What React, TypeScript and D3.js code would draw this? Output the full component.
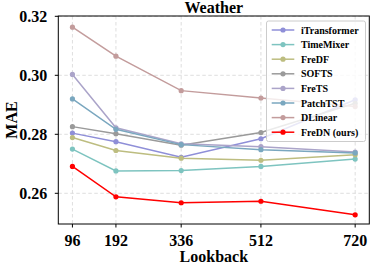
import React from "react";
import * as d3 from "d3";

const lookbacks = [96, 192, 336, 512, 720];
const seriesNames = ["iTransformer", "TimeMixer", "FreDF", "SOFTS", "FreTS", "PatchTST", "DLinear", "FreDN (ours)"];
const iTransformer = [0.2804, 0.2775, 0.2722, 0.2785, 0.2917];
const TimeMixer = [0.2750, 0.2676, 0.2677, 0.2691, 0.2716];
const FreDF = [0.2789, 0.2745, 0.2719, 0.2712, 0.2731];
const SOFTS = [0.2826, 0.2802, 0.2763, 0.2806, 0.2905];
const FreTS = [0.3003, 0.2822, 0.2768, 0.2758, 0.2740];
const PatchTST = [0.2920, 0.2817, 0.2765, 0.2748, 0.2737];
const DLinear = [0.3163, 0.3065, 0.2948, 0.2923, 0.2894];
const FreDN = [0.2691, 0.2588, 0.2568, 0.2573, 0.2527];
const seriesValues = [iTransformer, TimeMixer, FreDF, SOFTS, FreTS, PatchTST, DLinear, FreDN];
const seriesColors = ["#8f8fd8", "#7ec4c0", "#bdbd80", "#9a9a9a", "#aba4c9", "#7aa7bf", "#c39c9c", "#ff0000"];
const yTicks = [0.26, 0.28, 0.30, 0.32];

const W = 372, H = 269;
const L = 58.3, R = 369.3, T = 16, B = 224;
const FONT = "'Liberation Serif', 'Times New Roman', serif";

export default function App() {
  const x = d3.scaleLinear().domain([64.8, 751.2]).range([L, R]);
  const y = d3.scaleLinear().domain([0.26, 0.32]).range([193.3, 16.3]);
  const line = d3.line<number>().x((_, i) => x(lookbacks[i])).y((v) => y(v));

  const legX = 266.5, legY = 21, legW = 99, legH = 120.5;
  const rowH = 14.6;

  return (
    <svg width={W} height={H} style={{ position: "absolute", left: 0, top: 0 }} fontFamily={FONT}>
      <rect x={0} y={0} width={W} height={H} fill="#fff" />
      <defs>
        <clipPath id="plot">
          <rect x={L} y={T} width={R - L} height={B - T} />
        </clipPath>
      </defs>
      {/* grid */}
      {lookbacks.map((t) => (
        <line key={"gx" + t} x1={x(t)} x2={x(t)} y1={T} y2={B} stroke="#d6d6d6" strokeWidth={0.8} strokeDasharray="3.5,2.5" />
      ))}
      {yTicks.map((t) => (
        <line key={"gy" + t} x1={L} x2={R} y1={y(t)} y2={y(t)} stroke="#d6d6d6" strokeWidth={0.8} strokeDasharray="3.5,2.5" />
      ))}
      {/* series */}
      <g clipPath="url(#plot)">
        {seriesValues.map((vals, si) => (
          <g key={seriesNames[si]}>
            <path d={line(vals) || ""} fill="none" stroke={seriesColors[si]} strokeWidth={1.5} />
            {vals.map((v, i) => (
              <circle key={i} cx={x(lookbacks[i])} cy={y(v)} r={2.6} fill={seriesColors[si]} />
            ))}
          </g>
        ))}
      </g>
      {/* frame */}
      <rect x={L} y={T} width={R - L} height={B - T} fill="none" stroke="#000" strokeWidth={1} />
      {/* y ticks */}
      {yTicks.map((t) => (
        <g key={"yt" + t}>
          <line x1={L - 3.5} x2={L} y1={y(t)} y2={y(t)} stroke="#000" strokeWidth={1} />
          <text x={L - 11} y={y(t)} dy="0.35em" textAnchor="end" fontSize={16} fontWeight="bold">
            {t.toFixed(2)}
          </text>
        </g>
      ))}
      {/* x ticks */}
      {lookbacks.map((t) => (
        <g key={"xt" + t}>
          <line x1={x(t)} x2={x(t)} y1={B} y2={B + 3.5} stroke="#000" strokeWidth={1} />
          <text x={x(t)} y={246} textAnchor="middle" fontSize={16} fontWeight="bold">
            {t}
          </text>
        </g>
      ))}
      {/* labels */}
      <text x={(L + R) / 2} y={13} textAnchor="middle" fontSize={16} fontWeight="bold">Weather</text>
      <text x={(L + R) / 2} y={262} textAnchor="middle" fontSize={16} fontWeight="bold">Lookback</text>
      <text transform={`translate(17,${(T + B) / 2}) rotate(-90)`} textAnchor="middle" fontSize={16} fontWeight="bold">MAE</text>
      {/* legend */}
      <rect x={legX} y={legY} width={legW} height={legH} rx={2} fill="#fff" fillOpacity={0.8} stroke="#cccccc" strokeWidth={1} />
      {seriesNames.map((n, i) => {
        const cy = 30 + i * rowH;
        return (
          <g key={"lg" + n}>
            <line x1={271.7} x2={294.3} y1={cy} y2={cy} stroke={seriesColors[i]} strokeWidth={1.5} />
            <circle cx={283} cy={cy} r={2.6} fill={seriesColors[i]} />
            <text x={301} y={cy} dy="0.35em" fontSize={10} fontWeight="bold">{n}</text>
          </g>
        );
      })}
    </svg>
  );
}
